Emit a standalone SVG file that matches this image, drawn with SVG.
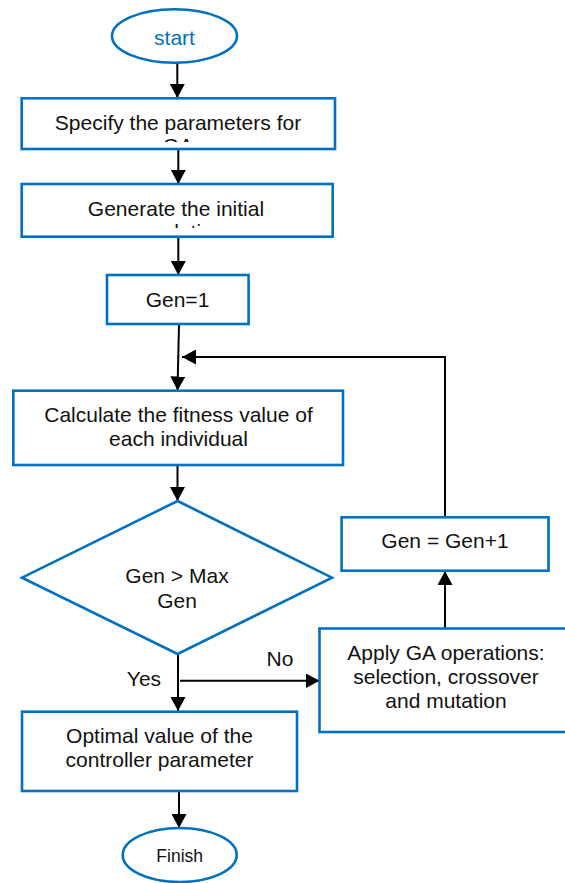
<svg xmlns="http://www.w3.org/2000/svg" width="565" height="883" viewBox="0 0 565 883">
<style>
.n{fill:#fff;stroke:#0070C0;stroke-width:2.6}
.t{font-family:"Liberation Sans",Arial,sans-serif;font-size:21px;fill:#111;text-anchor:middle}
.c{fill:none;stroke:#000;stroke-width:2;marker-end:url(#ah)}
.p{fill:none;stroke:#000;stroke-width:2}
</style>
<defs>
<marker id="ah" markerUnits="userSpaceOnUse" markerWidth="15" markerHeight="15" refX="14" refY="7.5" orient="auto"><path d="M0,0L14,7.5L0,15z" fill="#000"/></marker>
<clipPath id="cl1"><rect x="22" y="98" width="313" height="44"/></clipPath>
<clipPath id="cl2"><rect x="22" y="184" width="311" height="44"/></clipPath>
</defs>
<rect width="565" height="883" fill="#fff"/>
<g id="connectors">
<line class="c" x1="177.3" y1="63" x2="177.3" y2="98"/>
<line class="c" x1="178.3" y1="149" x2="178.3" y2="184"/>
<line class="c" x1="178.3" y1="237" x2="178.3" y2="275"/>
<line class="c" x1="179" y1="324" x2="177.5" y2="390.5"/>
<polyline class="c" points="445,517.3 445,357 182,357"/>
<line class="c" x1="177.5" y1="465" x2="177.5" y2="501"/>
<line class="c" x1="178" y1="654" x2="178" y2="711"/>
<line class="c" x1="180" y1="680.7" x2="319.5" y2="680.7"/>
<line class="c" x1="445" y1="628.5" x2="445" y2="571"/>
<line class="c" x1="179" y1="791" x2="179" y2="828"/>
<text class="t" x="280" y="666">No</text>
<text class="t" x="144" y="686">Yes</text>
</g>
<g id="start">
<ellipse class="n" cx="174.5" cy="36" rx="62.5" ry="26.7"/>
<text class="t" x="174.5" y="45" fill="#0070C0" style="fill:#0070C0">start</text>
</g>
<g id="specify">
<rect class="n" x="21.7" y="98.3" width="313.3" height="50.7"/>
<text class="t" x="178" y="130">Specify the parameters for</text>
<text class="t" x="178" y="152.5" clip-path="url(#cl1)">GA</text>
</g>
<g id="generate">
<rect class="n" x="21.7" y="184" width="311" height="52.7"/>
<text class="t" x="176" y="216">Generate the initial</text>
<text class="t" x="176" y="238.5" clip-path="url(#cl2)">population</text>
</g>
<g id="gen1">
<rect class="n" x="107" y="275" width="141.6" height="49"/>
<text class="t" x="177.5" y="306.7">Gen=1</text>
</g>
<g id="calc">
<rect class="n" x="13.3" y="390.7" width="329.7" height="74.3"/>
<text class="t" x="178.5" y="421.7">Calculate the fitness value of</text>
<text class="t" x="178.5" y="445.7">each individual</text>
</g>
<g id="decision">
<polygon class="n" points="177.6,501 332,577.7 177.6,654 22,577.7"/>
<text class="t" x="177" y="583.3">Gen &gt; Max</text>
<text class="t" x="177" y="608.3">Gen</text>
</g>
<g id="genplus">
<rect class="n" x="341.6" y="517.3" width="206.9" height="53.4"/>
<text class="t" x="445" y="548.3">Gen = Gen+1</text>
</g>
<g id="apply">
<rect class="n" x="319.5" y="628.5" width="260" height="103.5"/>
<text class="t" x="446" y="660">Apply GA operations:</text>
<text class="t" x="446" y="684">selection, crossover</text>
<text class="t" x="446" y="708">and mutation</text>
</g>
<g id="optimal">
<rect class="n" x="22" y="711.7" width="275" height="79.3"/>
<text class="t" x="159.5" y="743">Optimal value of the</text>
<text class="t" x="159.5" y="767.3">controller parameter</text>
</g>
<g id="finish">
<ellipse class="n" cx="179.7" cy="855" rx="57" ry="27"/>
<text class="t" x="179.7" y="861.7" style="font-size:17.5px">Finish</text>
</g>
</svg>
